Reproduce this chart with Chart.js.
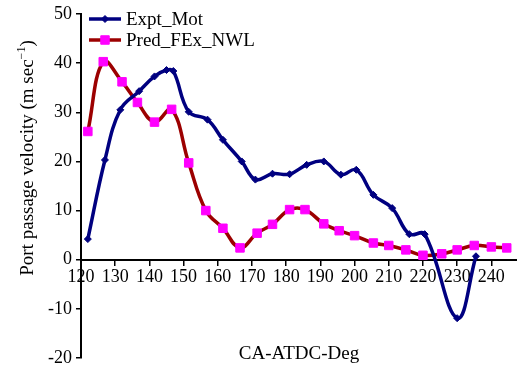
<!DOCTYPE html>
<html>
<head>
<meta charset="utf-8">
<script src="https://cdn.jsdelivr.net/npm/chart.js"></script>
<style>
  html, body { margin: 0; padding: 0; background: #fff; }
  #wrap { width: 517px; height: 368px; }
</style>
</head>
<body>
<div id="wrap"><canvas id="chart" width="517" height="368"></canvas></div>
<script>
// values
const exptAngle = [122, 127, 131.5, 137, 141.5, 145, 147, 151.5, 157, 161.5, 167, 171, 176, 181, 186, 191, 196, 200.5, 205.5, 211, 216, 220.5, 230, 235.5];
const exptVel   = [4.2, 20.3, 30.5, 34.3, 37.3, 38.6, 38.4, 30.1, 28.5, 24.4, 20.0, 16.3, 17.5, 17.4, 19.3, 20.0, 17.3, 18.3, 13.2, 10.5, 5.2, 5.2, -11.9, 0.7];

const predAngle = [122, 126.5, 132, 136.5, 141.5, 146.5, 151.5, 156.5, 161.5, 166.5, 171.5, 176, 181, 185.5, 191, 195.5, 200, 205.5, 210, 215, 220, 225.5, 230, 235, 240, 244.5];
const predVel   = [26.1, 40.3, 36.2, 32.0, 28.0, 30.6, 19.7, 10.0, 6.4, 2.4, 5.4, 7.2, 10.2, 10.2, 7.3, 5.9, 4.9, 3.4, 2.9, 2.0, 0.9, 1.2, 2.0, 2.9, 2.6, 2.4];

const seriesNames = ['Expt_Mot', 'Pred_FEx_NWL'];
const xTitle = 'CA-ATDC-Deg';
const yTitle = 'Port passage velocity (m sec';
const yTitleSup = '\u22121';

const serif = "'Liberation Serif', 'Times New Roman', serif";
const navy = '#000080';
const darkRed = '#9c0000';
const magenta = '#ff00ff';

const toPoints = (xs, ys) => xs.map((x, i) => ({x: x, y: ys[i]}));

// legend drawn in the top left corner of the plot: line + marker + name
const legendBox = {
  id: 'legendBox',
  afterDatasetsDraw(chart) {
    const ctx = chart.ctx;
    const left = chart.chartArea.left + 8;
    chart.data.datasets.forEach((ds, i) => {
      const y = chart.chartArea.top + 5 + i * 21;
      ctx.save();
      ctx.strokeStyle = ds.borderColor;
      ctx.lineWidth = ds.borderWidth;
      ctx.beginPath();
      ctx.moveTo(left, y);
      ctx.lineTo(left + 32, y);
      ctx.stroke();
      ctx.fillStyle = ds.pointBackgroundColor;
      ctx.strokeStyle = ds.pointBorderColor;
      ctx.lineWidth = ds.pointBorderWidth;
      Chart.helpers.drawPoint(ctx, {pointStyle: ds.pointStyle, radius: ds.pointRadius, borderWidth: ds.pointBorderWidth, rotation: 0}, left + 16, y);
      ctx.fillStyle = '#000';
      ctx.font = '19px ' + serif;
      ctx.textBaseline = 'middle';
      ctx.fillText(ds.label, left + 37, y + 1);
      ctx.restore();
    });
  }
};

// rotated y title with a raised "-1"
const yTitleDraw = {
  id: 'yTitleDraw',
  afterDraw(chart) {
    const ctx = chart.ctx;
    ctx.save();
    ctx.translate(28, 158);
    ctx.rotate(-Math.PI / 2);
    ctx.fillStyle = '#000';
    ctx.textBaseline = 'middle';
    ctx.font = '19px ' + serif;
    const w1 = ctx.measureText(yTitle).width;
    const w3 = ctx.measureText(')').width;
    ctx.font = '12px ' + serif;
    const w2 = ctx.measureText(yTitleSup).width;
    const start = -(w1 + w2 + w3) / 2;
    ctx.font = '19px ' + serif;
    ctx.fillText(yTitle, start, 0);
    ctx.fillText(')', start + w1 + w2, 0);
    ctx.font = '12px ' + serif;
    ctx.fillText(yTitleSup, start + w1, -6);
    ctx.restore();
  }
};

const ctx = document.getElementById('chart');
const chart = new Chart(ctx, {
  type: 'line',
  data: {
    datasets: [{
      label: seriesNames[0],
      data: toPoints(exptAngle, exptVel),
      borderColor: navy,
      borderWidth: 3.5,
      tension: 0.4,
      pointStyle: 'rectRot',
      pointRadius: 3.5,
      pointBackgroundColor: navy,
      pointBorderColor: navy,
      pointBorderWidth: 1
    }, {
      label: seriesNames[1],
      data: toPoints(predAngle, predVel),
      borderColor: darkRed,
      borderWidth: 3.5,
      tension: 0.4,
      pointStyle: 'rect',
      pointRadius: 6,
      pointBackgroundColor: magenta,
      pointBorderColor: magenta,
      pointBorderWidth: 1
    }]
  },
  options: {
    responsive: false,
    animation: false,
    layout: { autoPadding: false, padding: { left: 0, top: 14, right: 0, bottom: 10 } },
    plugins: {
      legend: { display: false },
      tooltip: { enabled: false }
    },
    scales: {
      x: {
        type: 'linear',
        position: { y: 0 },
        min: 120,
        max: 247.5,
        afterFit: scale => { scale.paddingLeft = 0; scale.paddingRight = 0; },
        ticks: {
          stepSize: 10,
          includeBounds: false,
          maxRotation: 0,
          autoSkip: false,
          padding: 2,
          color: '#000',
          font: { family: serif, size: 18 }
        },
        grid: { display: true, drawOnChartArea: false, drawTicks: true, tickLength: 5, color: '#000', lineWidth: 1.5 },
        border: { display: true, color: '#000', width: 2 },
        title: {
          display: true,
          text: xTitle,
          color: '#000',
          font: { family: serif, size: 19 },
          padding: { top: 52, bottom: 0 }
        }
      },
      y: {
        type: 'linear',
        position: 'left',
        min: -20,
        max: 50,
        afterFit: scale => { scale.width = 81; scale.paddingTop = 0; scale.paddingBottom = 0; },
        ticks: {
          stepSize: 10,
          padding: 4,
          color: '#000',
          font: { family: serif, size: 18 }
        },
        grid: { display: true, drawOnChartArea: false, drawTicks: true, tickLength: 5, color: '#000', lineWidth: 1.5 },
        border: { display: true, color: '#000', width: 2 }
      }
    }
  },
  plugins: [legendBox, yTitleDraw]
});
</script>
</body>
</html>
